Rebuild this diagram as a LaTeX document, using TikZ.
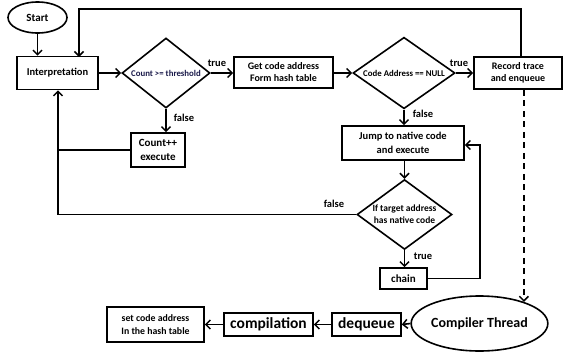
\documentclass[tikz,border=0pt]{standalone}
\usepackage{fontspec}
\setmainfont{Carlito}
\usetikzlibrary{arrows.meta,shapes.geometric}
\definecolor{navytext}{HTML}{1A1A4A}
\tikzset{
  every node/.style={font=\bfseries, inner sep=0pt, align=center},
  box/.style={draw, line width=1.6pt, minimum width=#1},
  tip/.style={-{Straight Barb[length=4.5pt,width=9pt,line width=1.5pt]}},
  flow/.style={line width=1.6pt, tip},
  plain/.style={line width=1.6pt},
  decision/.style={draw, diamond, line width=1.6pt, aspect=1.25},
  oval/.style={draw, ellipse, line width=1.6pt},
  lbl/.style={font=\bfseries\fontsize{10.5}{12}\selectfont}
}
\begin{document}
\begin{tikzpicture}[x=1pt,y=-1pt]
\useasboundingbox (0,0) rectangle (565,354);

% upper row
\node[oval, minimum width=59pt, minimum height=31pt, font=\bfseries\fontsize{11}{12}\selectfont] (start) at (37.5,17.5) {Start};
\node[box=81pt, minimum height=33pt, font=\bfseries\fontsize{10.5}{12}\selectfont] (interp) at (57.5,73) {Interpretation};
\node[decision, minimum width=88pt, minimum height=70pt, text=navytext, font=\bfseries\fontsize{8.8}{10}\selectfont] (thr) at (166,73) {Count >= threshold};
\node[box=99pt, minimum height=31pt, font=\bfseries\fontsize{10}{12}\selectfont] (getcode) at (283.5,72.5) {Get code address\\Form hash table};
\node[decision, minimum width=102pt, minimum height=70pt, font=\bfseries\fontsize{8.8}{10}\selectfont] (isnull) at (404,73) {Code Address == NULL};
\node[box=88pt, minimum height=32pt, font=\bfseries\fontsize{10}{12}\selectfont] (record) at (518,73) {Record trace\\and enqueue};

% middle
\node[box=54pt, minimum height=34pt, font=\bfseries\fontsize{11}{13.5}\selectfont] (count) at (158,150) {Count++\\execute};
\node[box=122pt, minimum height=34pt, font=\bfseries\fontsize{10.5}{13.5}\selectfont] (jump) at (403,143) {Jump to native code\\and execute};
\node[decision, minimum width=95pt, minimum height=69pt, font=\bfseries\fontsize{9.5}{12}\selectfont] (target) at (404.5,214.5) {If target address\\has native code};
\node[box=47pt, minimum height=21pt, font=\bfseries\fontsize{11}{12}\selectfont] (chain) at (403.5,278.5) {chain};

% compiler thread row
\node[oval, minimum width=129pt, minimum height=55pt, font=\bfseries\fontsize{14}{16}\selectfont] (comp) at (479.5,323.5) {Compiler Thread};
\node[box=69pt, minimum height=23pt, font=\bfseries\fontsize{15.5}{17}\selectfont] (deq) at (366.5,324.5) {dequeue};
\node[box=89pt, minimum height=23pt, font=\bfseries\fontsize{15.5}{17}\selectfont] (compil) at (268.5,324.5) {compilation};
\node[box=97pt, minimum height=35pt, font=\bfseries\fontsize{9.8}{12.5}\selectfont] (setcode) at (155.5,324.5) {set code address\\In the hash table};

% main flow
\draw[flow] (start) -- (start |- interp.north);
\draw[flow] (interp.east |- thr.west) -- (thr.west);
\draw[flow] (thr.east) -- (getcode.west |- thr.east);
\draw[flow] (getcode.east |- isnull.west) -- (isnull.west);
\draw[flow] (isnull.east) -- (record.west |- isnull.east);
\draw[flow] (thr.south) -- (thr.south |- count.north);
\draw[flow] (isnull.south) -- (isnull.south |- jump.north);
\draw[flow] (jump.south -| target.north) -- (target.north);
\draw[flow] (target.south) -- (target.south |- chain.north);

% loops back
\coordinate (rtop) at (521,57);
\coordinate (ltop) at (79,57);
\draw[flow] (record.north -| rtop) -- ++(0,-47) -| (ltop);
\coordinate (lcol) at (58,90);
\draw[flow] (target.west) -| (interp.south -| lcol);
\draw[plain] (count.west) -- (count.west -| lcol);
\coordinate (rcol) at (480,145);
\draw[flow] (chain.east) -| (rcol) -- (jump.east |- rcol);

% hand-off to the compiler thread
\draw[line width=1.6pt, dash pattern=on 6pt off 4.5pt, tip] (record.south -| comp.26.8) -- (comp.26.8);
\draw[flow] (comp.west) -- (deq.east);
\draw[flow] (deq.west) -- (compil.east);
\draw[flow] (compil.west) -- (setcode.east);

% branch labels
\node[lbl] at (217,63) {true};
\node[lbl] at (184,118) {false};
\node[lbl] at (459,63) {true};
\node[lbl] at (423,114) {false};
\node[lbl] at (334,204) {false};
\node[lbl] at (423,256) {true};
\end{tikzpicture}
\end{document}
